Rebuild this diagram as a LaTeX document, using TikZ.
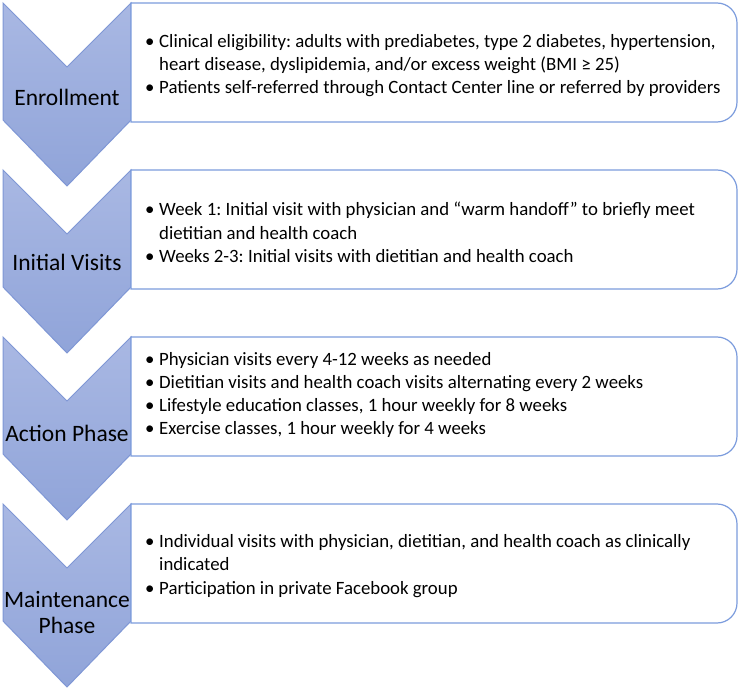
\documentclass[tikz,border=0pt]{standalone}
\usepackage{fontspec}
\setmainfont{Carlito}
\frenchspacing
\definecolor{chevtop}{HTML}{A9B8E3}
\definecolor{chevbot}{HTML}{90A4D9}
\definecolor{chevline}{HTML}{7F97D5}
\definecolor{boxblue}{HTML}{7C9CDD}
\newcommand\bulletmark{\makebox[14pt][l]{•}}
\newcommand\bulletind{\hspace*{14pt}}
\begin{document}
\begin{tikzpicture}[x=1pt,y=-1pt,
  chev/.style={draw=chevline, line width=1pt, top color=chevtop, bottom color=chevbot, line join=miter},
  boxline/.style={draw=boxblue, line width=1.2pt, fill=white},
  lab/.style={font=\fontsize{23.5}{26}\selectfont, align=center, text=black, inner sep=0pt},
  items/.style={font=\fontsize{18.8}{23.3}\selectfont, align=left, anchor=west, inner sep=0pt, text=black}]
\useasboundingbox[fill=white] (0,0) rectangle (740,690);
\foreach \T in {3,170,337,504}{
  \path[chev] (3,\T) -- (67,{\T+64}) -- (131,\T) -- (131,{\T+117}) -- (67,{\T+183}) -- (3,{\T+117}) -- cycle;
  \path[boxline] (131,\T) -- (717,\T) .. controls (728.05,\T) and (737,{\T+8.95}) .. (737,{\T+20})
    -- (737,{\T+99}) .. controls (737,{\T+110.05}) and (728.05,{\T+119}) .. (717,{\T+119}) -- (131,{\T+119}) -- cycle;
}
\node[lab] (l1) at (67,97) {Enrollment};
\node[lab] (l2) at (67,262) {Initial Visits};
\node[lab] (l3) at (67,433) {Action Phase};
\node[lab] (l4) at (67,613) {Maintenance\\Phase};
\node[items] (t1) at (145,65.5) {\bulletmark Clinical eligibility: adults with prediabetes, type 2 diabetes, hypertension,\\\bulletind heart disease, dyslipidemia, and/or excess weight (BMI ≥ 25)\\\bulletmark Patients self-referred through Contact Center line or referred by providers};
\node[items] (t2) at (145,232.5) {\bulletmark Week 1: Initial visit with physician and “warm handoff” to briefly meet\\\bulletind dietitian and health coach\\\bulletmark Weeks 2-3: Initial visits with dietitian and health coach};
\node[items] (t3) at (145,395) {\bulletmark Physician visits every 4-12 weeks as needed\\\bulletmark Dietitian visits and health coach visits alternating every 2 weeks\\\bulletmark Lifestyle education classes, 1 hour weekly for 8 weeks\\\bulletmark Exercise classes, 1 hour weekly for 4 weeks};
\node[items] (t4) at (145,566) {\bulletmark Individual visits with physician, dietitian, and health coach as clinically\\\bulletind indicated\\\bulletmark Participation in private Facebook group};
\end{tikzpicture}
\end{document}
